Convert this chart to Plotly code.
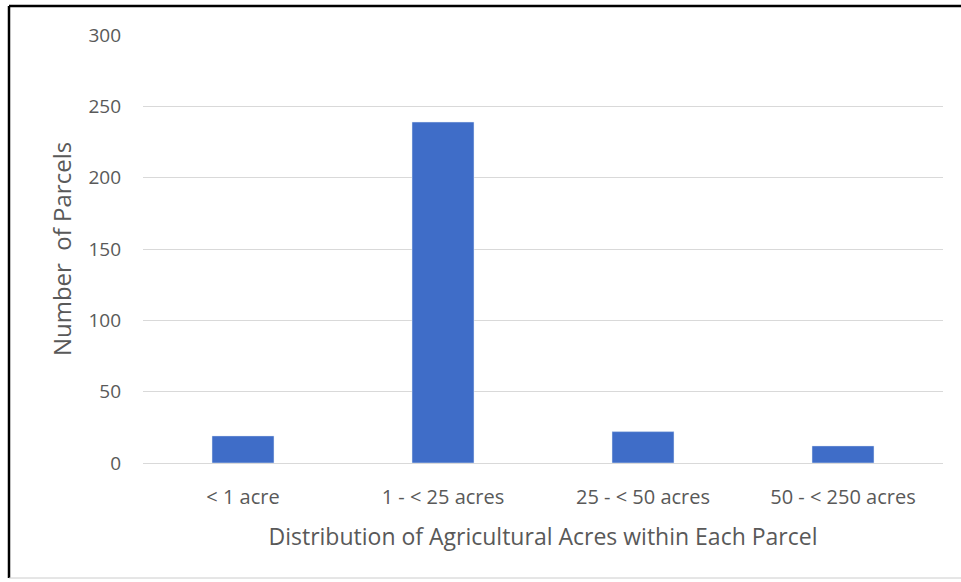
import plotly.graph_objects as go

categories = ["< 1 acre", "1 - < 25 acres", "25 - < 50 acres", "50 - < 250 acres"]
parcels = [19, 239, 22, 12]
y_ticks = [0, 50, 100, 150, 200, 250, 300]

L, R, T, B = 143, 18, 35, 119
W, H = 961, 582
pw = W - L - R
ph = H - T - B

def px(x):
    return (x - L) / pw

def py(y):
    return (H - B - y) / ph

fig = go.Figure(go.Bar(x=categories, y=parcels, marker_color="#3F6DC8", width=0.31))

fig.update_layout(
    width=W, height=H,
    margin=dict(l=L, r=R, t=T, b=B),
    paper_bgcolor="white", plot_bgcolor="white",
    font=dict(family="Open Sans", size=16, color="#595959"),
    showlegend=False,
    xaxis=dict(
        title=dict(text="Distribution of Agricultural Acres within Each Parcel", font=dict(size=23), standoff=19),
        showgrid=False, showline=True, linecolor="#d9d9d9", linewidth=1,
        ticks="", tickfont=dict(size=20), ticklabelstandoff=16,
    ),
    yaxis=dict(
        title=dict(text="Number  of Parcels", font=dict(size=24), standoff=10),
        range=[0, 300], tickvals=y_ticks, showgrid=True, gridcolor="#d9d9d9", gridwidth=1,
        zeroline=False, ticks="", ticklabelstandoff=21, tickfont=dict(size=19),
    ),
    shapes=[
        dict(type="line", xref="paper", yref="paper", x0=px(9), x1=px(970), y0=py(6), y1=py(6),
             line=dict(color="black", width=2.5)),
        dict(type="line", xref="paper", yref="paper", x0=px(9), x1=px(9), y0=py(6), y1=py(578),
             line=dict(color="black", width=2.5)),
        dict(type="line", xref="paper", yref="paper", x0=px(9), x1=px(970), y0=py(578), y1=py(578),
             line=dict(color="#cccccc", width=1)),
    ],
)

fig.write_html("out.html", config={"displayModeBar": False},
               post_script="document.body.style.margin='0';")
